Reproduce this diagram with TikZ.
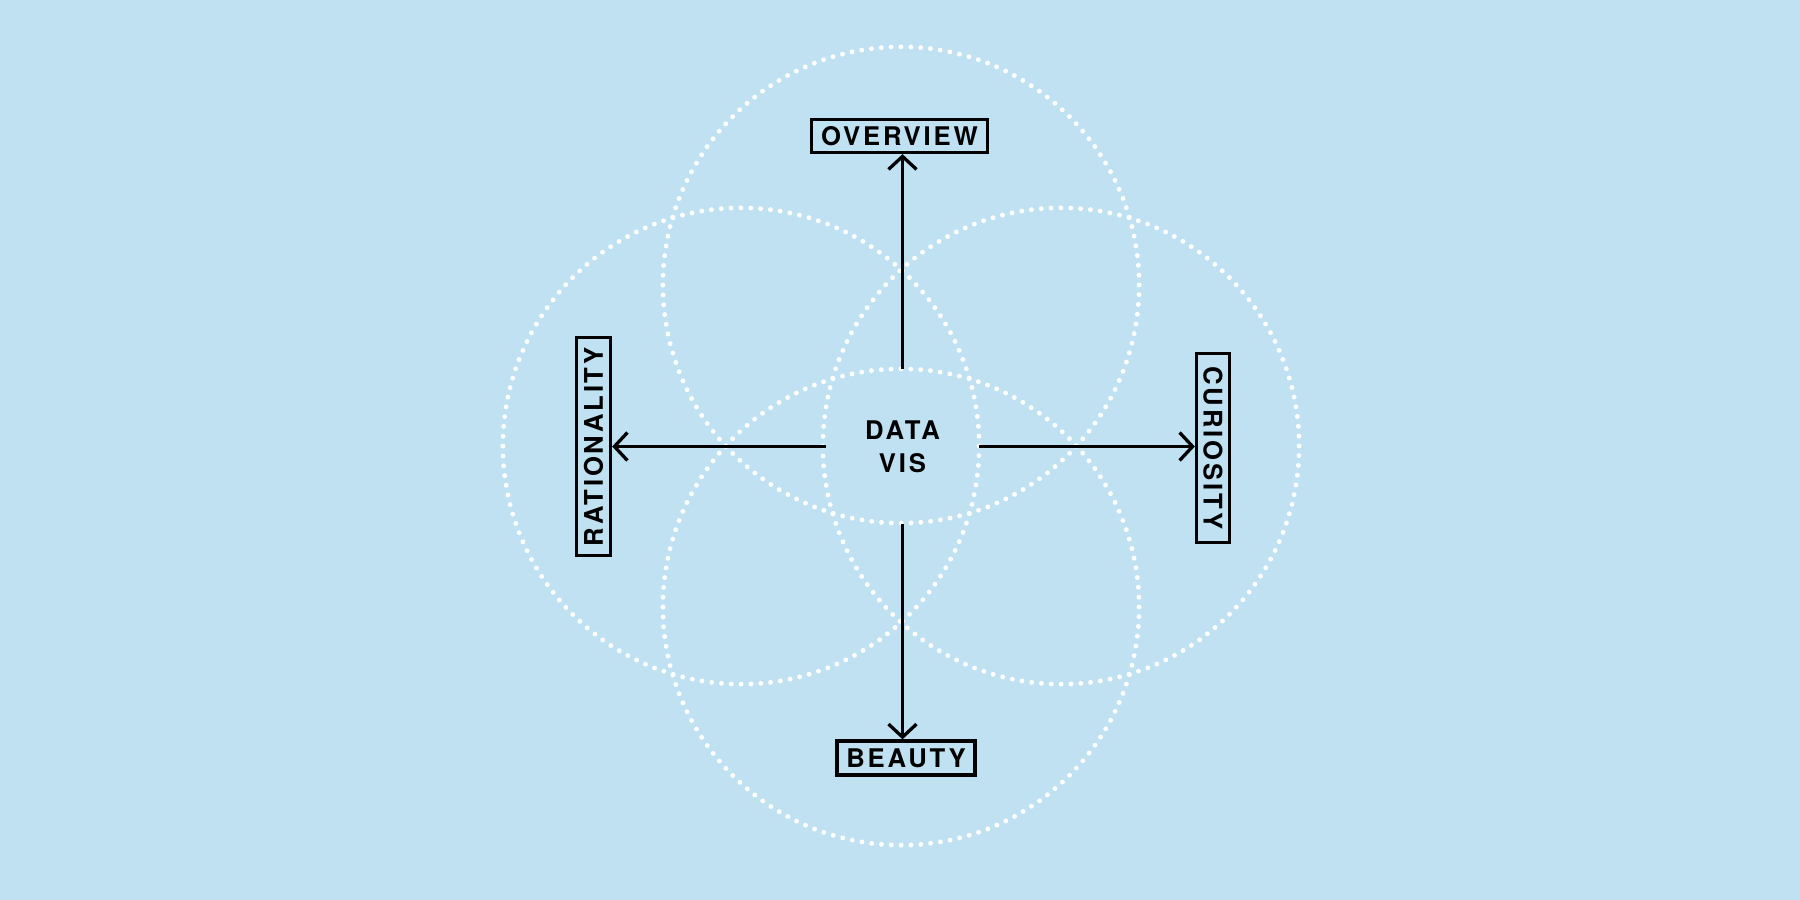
\documentclass[tikz,border=0pt]{standalone}
\usepackage{fontspec}
\newfontfamily\lblfont[LetterSpace=11]{TeX Gyre Heros}
\usetikzlibrary{arrows.meta}
\definecolor{bg}{RGB}{191,225,241}
\begin{document}
\begin{tikzpicture}[x=0.01cm,y=-0.01cm,
  ring/.style={white, line width=1.4pt, line cap=round, dash pattern=on 0pt off 2.8pt},
  tag/.style={draw=black, line width=0.33mm, inner sep=0pt, text=black,
    font=\lblfont\bfseries\fontsize{7.3}{9.4}\selectfont},
  axis/.style={draw=black, line width=0.33mm,
    -{Straight Barb[length=1.3mm,width=2.8mm,line width=0.33mm]}}]
\fill[bg] (0,0) rectangle (1800,900);
\useasboundingbox (0,0) rectangle (1800,900);
% dotted rings
\draw[ring] (901,285) circle[radius=2.38cm];
\draw[ring] (901,607) circle[radius=2.38cm];
\draw[ring] (741,446) circle[radius=2.38cm];
\draw[ring] (1061,446) circle[radius=2.38cm];
% center
\node[minimum width=1.52cm, minimum height=1.53cm, inner sep=0pt, align=center,
  font=\lblfont\bfseries\fontsize{7.3}{9.4}\selectfont] (dv) at (902.5,446.5) {DATA\\VIS};
% labels
\node[tag, minimum width=1.76cm, minimum height=0.33cm] (ov) at (899.5,136) {OVERVIEW};
\node[tag, minimum width=1.38cm, minimum height=0.34cm] (be) at (906,758) {BEAUTY};
\node[tag, rotate=90, minimum width=2.18cm, minimum height=0.34cm] (ra) at (593.5,446.5) {RATIONALITY};
\node[tag, rotate=-90, minimum width=1.89cm, minimum height=0.33cm] (cu) at (1213,448) {CURIOSITY};
% connectors
\draw[axis] (dv.north) -- (dv.north |- ov.south);
\draw[axis] (dv.south) -- (dv.south |- be.north);
\draw[axis] (dv.west) -- (dv.west -| ra.south);
\draw[axis] (dv.east) -- (dv.east -| cu.south);
\end{tikzpicture}
\end{document}
